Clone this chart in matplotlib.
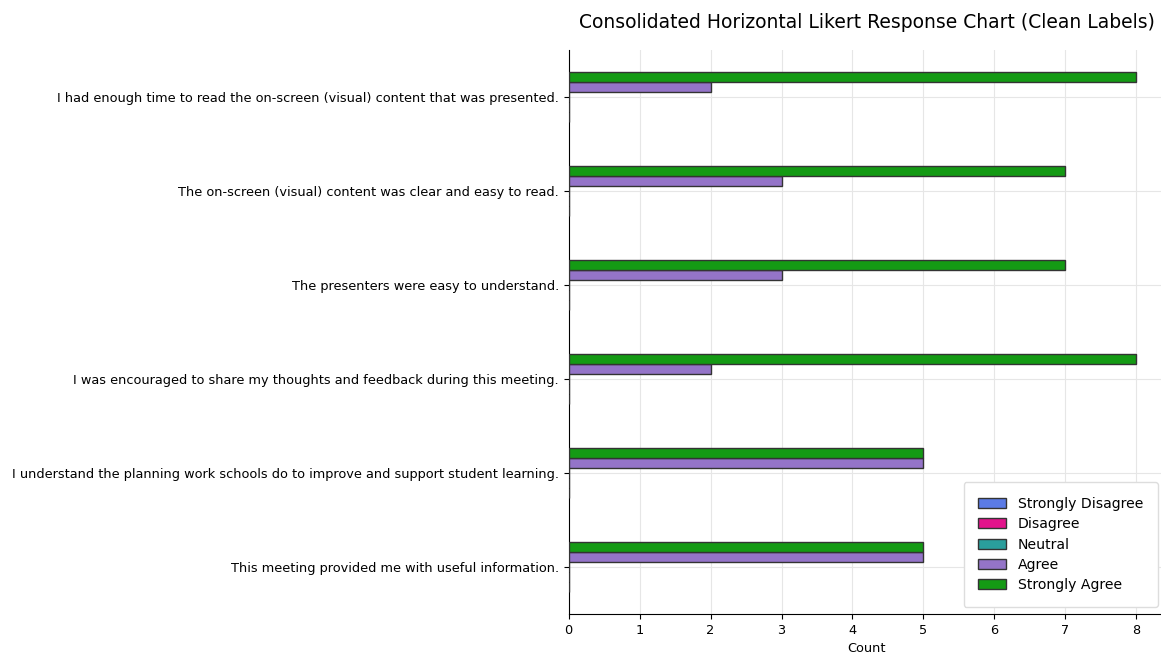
import matplotlib
matplotlib.use("Agg")
import matplotlib.pyplot as plt
import numpy as np

questions = [
    "This meeting provided me with useful information.",
    "I understand the planning work schools do to improve and support student learning.",
    "I was encouraged to share my thoughts and feedback during this meeting.",
    "The presenters were easy to understand.",
    "The on-screen (visual) content was clear and easy to read.",
    "I had enough time to read the on-screen (visual) content that was presented.",
]
categories = ["Strongly Disagree", "Disagree", "Neutral", "Agree", "Strongly Agree"]
strongly_disagree = [0, 0, 0, 0, 0, 0]
disagree = [0, 0, 0, 0, 0, 0]
neutral = [0, 0, 0, 0, 0, 0]
agree = [5, 5, 2, 3, 3, 2]
strongly_agree = [5, 5, 8, 7, 7, 8]
colors = ["#5B7BE6", "#E3148C", "#2A9E9C", "#9474C8", "#149A14"]

series = [strongly_disagree, disagree, neutral, agree, strongly_agree]

fig = plt.figure(figsize=(11.61, 6.6), dpi=100)
ax = fig.add_axes([0.4898, 0.0697, 0.5134, 0.8545])
y = np.arange(len(questions))
h = 0.105
for k, (cat, vals, c) in enumerate(zip(categories, series, colors)):
    ax.barh(y + (k - 2) * h, vals, height=h, color=c, edgecolor="#333333",
            linewidth=1.0, label=cat, zorder=3)

ax.set_ylim(-0.5, 5.5)
ax.set_xlim(0, 8.4)
ax.set_yticks(y)
ax.set_yticklabels(questions, fontsize=9.3)
ax.tick_params(axis="x", labelsize=9.3)
ax.set_xlabel("Count", fontsize=9.3)
ax.set_title("Consolidated Horizontal Likert Response Chart (Clean Labels)", fontsize=13.5, pad=16)
ax.grid(True, color="#e6e6e6", linewidth=0.8, zorder=0)
ax.set_axisbelow(True)
for s in ["top", "right"]:
    ax.spines[s].set_visible(False)
ax.legend(loc="lower right", bbox_to_anchor=(1.0, 0.0), fontsize=10.1,
          framealpha=1, edgecolor="#dddddd", handlelength=2.0, borderpad=1.05,
          labelspacing=0.45)
fig.savefig("out.png", dpi=100)
